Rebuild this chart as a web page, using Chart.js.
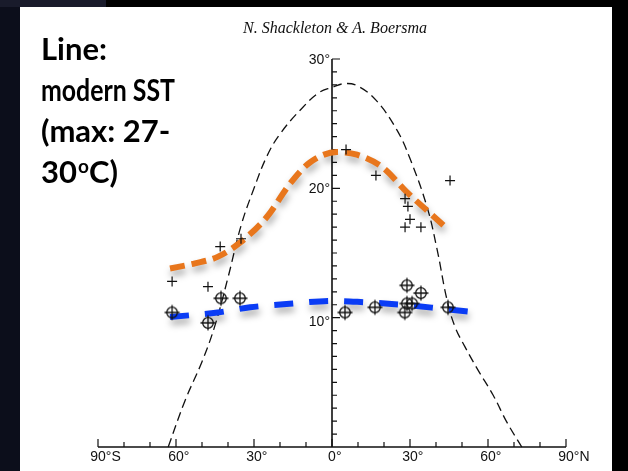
<!DOCTYPE html>
<html>
<head>
<meta charset="utf-8">
<script src="https://cdn.jsdelivr.net/npm/chart.js@4.4.1/dist/chart.umd.min.js"></script>
<style>
  html, body { margin: 0; padding: 0; background: #05060c; }
  #wrap { width: 628px; height: 471px; }
</style>
</head>
<body>
<div id="wrap"><canvas id="myChart" width="628" height="471"></canvas></div>
<script>
// modern SST (black dashed), latitude in degrees (S negative), temperature in deg C
const sstLat  = [-63, -56.5, -50, -45, -40, -35, -30, -25, -20, -12, -5, 0, 5, 10, 17, 25, 30, 36.5, 40.4, 44.2, 47.3, 51, 56, 62, 67.3, 73];
const sstTemp = [0, 3.6, 6.6, 9.4, 13.1, 17.1, 20.0, 22.5, 24.2, 26.1, 27.4, 27.8, 28.1, 27.9, 26.8, 24.5, 22.3, 18.6, 15.3, 11.4, 9.3, 7.8, 6.0, 4.0, 1.9, 0];

// orange dashed line
const warmLat  = [-62.3, -52.7, -44, -35.4, -25, -16, -8.5, 1.9, 9.6, 19.6, 28.8, 36.5, 44.2];
const warmTemp = [13.8, 14.2, 14.7, 15.8, 17.8, 20.4, 22.0, 22.8, 22.6, 21.6, 19.7, 18.3, 16.9];

// blue dashed line
const coldLat  = [-62.3, -44, -31.5, -15, 0, 12, 27, 42, 56];
const coldTemp = [10.05, 10.4, 10.8, 11.1, 11.3, 11.2, 11.0, 10.7, 10.4];

// "+" samples
const plusLat  = [-61.5, -47.7, -43, -35, 5.4, 16.9, 28.1, 29.2, 30, 28.1, 34.2, 45.4];
const plusTemp = [12.8, 12.4, 15.5, 16.1, 23.0, 21.0, 19.2, 18.6, 17.6, 17.0, 17.0, 20.6];

// circled "+" samples
const ringLat  = [-61.5, -47.7, -42.7, -35.4, 5, 16.5, 28.8, 34.2, 28.8, 30.8, 28, 44.6];
const ringTemp = [10.4, 9.6, 11.5, 11.5, 10.4, 10.8, 12.5, 11.9, 11.1, 11.1, 10.4, 10.8];

// axis labels
const xLabelVals = [-90, -60, -30, 0, 30, 60, 90];
const xLabelNums = ['90', '60', '30', '0', '30', '60', '90'];
const xLabelSuffix = ['°S', '°', '°', '°', '°', '°', '°N'];
const yLabelVals = [10, 20, 30];

const title = 'N. Shackleton & A. Boersma';
const noteLines = ['Line:', 'modern SST', '(max: 27-'];

const pts = (xs, ys) => xs.map((x, i) => ({ x: x, y: ys[i] }));

// circle with a cross through it
const ring = document.createElement('canvas');
ring.width = 18; ring.height = 18;
(function () {
  const c = ring.getContext('2d');
  c.strokeStyle = '#111';
  c.lineWidth = 1.3;
  c.beginPath(); c.arc(9, 9, 5.3, 0, Math.PI * 2); c.stroke();
  c.beginPath();
  c.moveTo(1.5, 9); c.lineTo(16.5, 9);
  c.moveTo(9, 1.5); c.lineTo(9, 16.5);
  c.stroke();
})();

const shadowPlugin = {
  id: 'shadow',
  beforeDatasetDraw(chart, args) {
    if (chart.data.datasets[args.index].shadow) {
      const ctx = chart.ctx;
      ctx.save();
      ctx.shadowColor = 'rgba(0,0,0,0.35)';
      ctx.shadowBlur = 7;
      ctx.shadowOffsetX = 1;
      ctx.shadowOffsetY = 5;
    }
  },
  afterDatasetDraw(chart, args) {
    if (chart.data.datasets[args.index].shadow) chart.ctx.restore();
  }
};

const paperPlugin = {
  id: 'paper',
  beforeDraw(chart) {
    const ctx = chart.ctx;
    ctx.save();
    ctx.fillStyle = '#000';
    ctx.fillRect(0, 0, 628, 471);
    ctx.fillStyle = '#0c0e1b';
    ctx.fillRect(0, 0, 20, 471);
    ctx.fillStyle = '#191b2b';
    ctx.fillRect(0, 0, 106, 7);
    ctx.fillStyle = '#fff';
    ctx.fillRect(20, 7, 592, 464);
    ctx.restore();
  },
  beforeDatasetsDraw(chart) {
    const ctx = chart.ctx;
    const xs = chart.scales.x, ys = chart.scales.y;
    const x0 = xs.getPixelForValue(0), yb = ys.getPixelForValue(0);
    ctx.save();
    ctx.strokeStyle = '#111';
    ctx.lineWidth = 1.6;
    ctx.beginPath();
    ctx.moveTo(xs.getPixelForValue(-90), yb);
    ctx.lineTo(xs.getPixelForValue(90), yb);
    ctx.moveTo(x0, yb);
    ctx.lineTo(x0, ys.getPixelForValue(30));
    ctx.stroke();
    ctx.lineWidth = 1.2;
    ctx.beginPath();
    for (let v = -90; v <= 90; v += 10) {
      const px = xs.getPixelForValue(v);
      ctx.moveTo(px, yb);
      ctx.lineTo(px, yb - (v % 30 === 0 ? 8 : 5));
    }
    for (let v = 1; v <= 30; v++) {
      const py = ys.getPixelForValue(v);
      ctx.moveTo(x0, py);
      ctx.lineTo(x0 + (v % 10 === 0 ? 8 : 5), py);
    }
    ctx.stroke();

    ctx.fillStyle = '#111';
    ctx.font = '14px "Liberation Sans", Arial, sans-serif';
    ctx.textBaseline = 'middle';
    ctx.textAlign = 'left';
    xLabelVals.forEach((v, i) => {
      const w = ctx.measureText(xLabelNums[i]).width;
      ctx.fillText(xLabelNums[i] + xLabelSuffix[i], xs.getPixelForValue(v) - w / 2, yb + 10);
    });
    ctx.textAlign = 'right';
    yLabelVals.forEach(v => {
      ctx.fillText(v + '°', x0 - 2, ys.getPixelForValue(v) + (v === 10 ? 4 : 1));
    });
    ctx.restore();
  },
  afterDraw(chart) {
    const ctx = chart.ctx;
    ctx.save();
    ctx.fillStyle = '#111';
    ctx.textBaseline = 'alphabetic';
    ctx.textAlign = 'center';
    ctx.font = 'italic 16px "Liberation Serif", "DejaVu Serif", serif';
    ctx.fillText(title, 335, 33);

    ctx.fillStyle = '#000';
    ctx.textAlign = 'left';
    ctx.font = 'bold 31px Lato, "Open Sans", sans-serif';
    const widths = [66, 134, 134];
    noteLines.forEach((t, i) => {
      ctx.fillText(t, 41, 60 + i * 41, widths[i]);
    });
    // last line with a raised small "o"
    let x = 41;
    const yl = 183;
    ctx.fillText('30', x, yl);
    x += ctx.measureText('30').width;
    ctx.font = 'bold 19px Lato, "Open Sans", sans-serif';
    ctx.fillText('o', x + 1, yl - 10);
    x += ctx.measureText('o').width + 1;
    ctx.font = 'bold 31px Lato, "Open Sans", sans-serif';
    ctx.fillText('C)', x, yl);
    ctx.restore();
  }
};

const ctx = document.getElementById('myChart').getContext('2d');
new Chart(ctx, {
  type: 'scatter',
  data: {
    datasets: [
      {
        label: 'plus',
        data: pts(plusLat, plusTemp),
        pointStyle: 'cross',
        pointRadius: 5,
        borderColor: '#111',
        borderWidth: 1.2,
        order: 0,
      },
      {
        label: 'ring',
        data: pts(ringLat, ringTemp),
        pointStyle: ring,
        order: 0,
      },
      {
        label: 'cold',
        data: pts(coldLat, coldTemp),
        showLine: true,
        pointRadius: 0,
        borderColor: '#0a3cf5',
        borderWidth: 6,
        borderDash: [19, 16],
        cubicInterpolationMode: 'monotone',
        shadow: true,
        order: 1,
      },
      {
        label: 'warm',
        data: pts(warmLat, warmTemp),
        showLine: true,
        pointRadius: 0,
        borderColor: '#e8761c',
        borderWidth: 6,
        borderDash: [15, 7],
        cubicInterpolationMode: 'monotone',
        shadow: true,
        order: 2,
      },
      {
        label: 'modern SST',
        data: pts(sstLat, sstTemp),
        showLine: true,
        pointRadius: 0,
        borderColor: '#111',
        borderWidth: 1.3,
        borderDash: [9, 5],
        tension: 0.4,
        order: 3,
      },
    ],
  },
  options: {
    responsive: false,
    animation: false,
    layout: { padding: { left: 98, right: 62, top: 59, bottom: 24 } },
    scales: {
      x: { type: 'linear', min: -90, max: 90, display: false },
      y: { type: 'linear', min: 0, max: 30, display: false },
    },
    plugins: {
      legend: { display: false },
      tooltip: { enabled: false },
    },
    elements: { line: { borderCapStyle: 'butt' } },
    clip: false,
  },
  plugins: [paperPlugin, shadowPlugin],
});
</script>
</body>
</html>
